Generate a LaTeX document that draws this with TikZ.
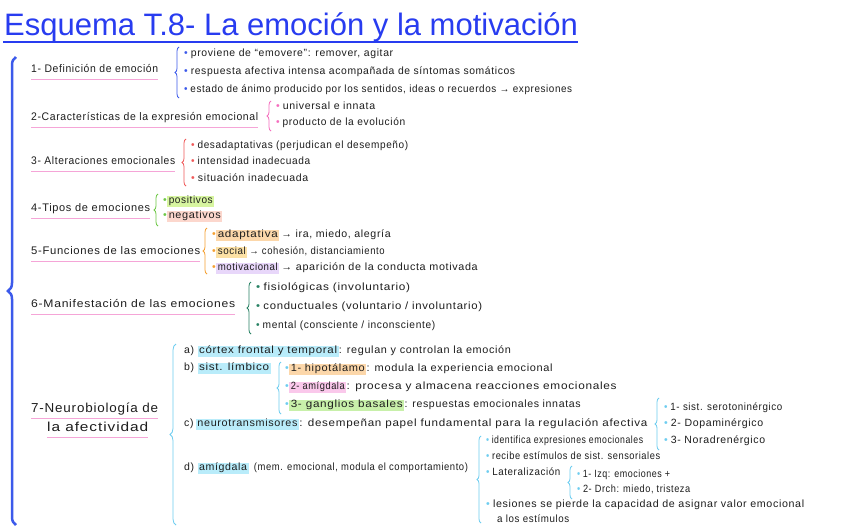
\documentclass[tikz,border=0pt]{standalone}
\usepackage{fontspec}
\setmainfont{Liberation Sans}
\newfontfamily\hand{Liberation Sans}[LetterSpace=6]
\usetikzlibrary{decorations.pathreplacing}
\definecolor{titleblue}{RGB}{40,60,240}
\definecolor{ink}{RGB}{30,30,30}
\definecolor{ulpink}{RGB}{245,165,215}
\definecolor{cA}{RGB}{60,90,235}
\definecolor{cB}{RGB}{245,110,190}
\definecolor{cC}{RGB}{240,90,90}
\definecolor{cD}{RGB}{110,200,70}
\definecolor{cE}{RGB}{245,160,50}
\definecolor{cF}{RGB}{40,130,100}
\definecolor{cG}{RGB}{110,205,240}
\definecolor{hlblue}{RGB}{185,236,250}
\definecolor{hlorange}{RGB}{252,215,170}
\definecolor{hlpink}{RGB}{250,200,235}
\definecolor{hlgreen}{RGB}{200,240,170}
\definecolor{hlpos}{RGB}{215,245,160}
\definecolor{hlneg}{RGB}{252,215,205}
\definecolor{hlsoc}{RGB}{252,225,165}
\definecolor{hlmot}{RGB}{232,215,250}
\newcommand{\bul}[1]{\textcolor{#1}{\textbullet}\hspace{3pt}}
\newcommand{\fw}[2]{\resizebox{#1pt}{\height}{#2}}
\begin{document}
\begin{tikzpicture}[x=1pt,y=-1pt,
  t/.style={anchor=west, inner sep=0pt, text height=7pt, text depth=2pt, font=\hand\fontsize{10.5}{12}\selectfont, text=ink},
  hd/.style={t, font=\hand\fontsize{11}{13}\selectfont},
  hdbig/.style={t, text height=9pt, text depth=3pt, font=\hand\fontsize{13}{15}\selectfont},
  hl/.style={t, inner xsep=1.5pt, inner ysep=1pt},
  ul/.style={ulpink, line width=1.3pt},
  br/.style={decorate, decoration={brace, amplitude=4pt}, line width=0.8pt}]
\fill[white] (0,0) rectangle (848,530);
\useasboundingbox (0,0) rectangle (848,530);
% title
\node[anchor=base west, inner sep=0pt, font=\fontsize{31}{36}\selectfont, text=titleblue] (title) at (4,35) {Esquema T.8- La emoción y la motivación};
\draw[titleblue, line width=2.5pt] ([xshift=-1pt,yshift=-7pt]title.base west) -- ([yshift=-7pt]title.base east);
% big brace
\draw[cA, line width=2.5pt, decorate, decoration={brace, amplitude=8pt}] (16,525) -- (16,57);
% 1
\node[hd] (h1) at (31,70) {\fw{127}{1- Definición de emoción}};
\draw[ul] ([yshift=-4.5pt]h1.south west) -- ([yshift=-4.5pt]h1.south east);
\draw[br, cA] (179,98) -- (179,47);
\node[t] (b11) at (184,54) {\fw{209}{\bul{cA}proviene de “emovere”: remover, agitar}};
\node[t] (b12) at (184,72) {\fw{331}{\bul{cA}respuesta afectiva intensa acompañada de síntomas somáticos}};
\node[t] (b13) at (184,90) {\fw{388}{\bul{cA}estado de ánimo producido por los sentidos, ideas o recuerdos → expresiones}};
% 2
\node[hd] (h2) at (31,118) {\fw{227}{2-Características de la expresión emocional}};
\draw[ul] ([yshift=-4.5pt]h2.south west) -- ([yshift=-4.5pt]h2.south east);
\draw[br, cB] (271,131) -- (271,101);
\node[t] (b21) at (276,107) {\fw{99}{\bul{cB}universal e innata}};
\node[t] (b22) at (276,123) {\fw{129}{\bul{cB}producto de la evolución}};
% 3
\node[hd] (h3) at (31,162) {\fw{144}{3- Alteraciones emocionales}};
\draw[ul] ([yshift=-4.5pt]h3.south west) -- ([yshift=-4.5pt]h3.south east);
\draw[br, cC] (186,186) -- (186,139);
\node[t] (b31) at (191,146) {\fw{217}{\bul{cC}desadaptativas (perjudican el desempeño)}};
\node[t] (b32) at (191,162) {\fw{119}{\bul{cC}intensidad inadecuada}};
\node[t] (b33) at (191,179) {\fw{117}{\bul{cC}situación inadecuada}};
% 4
\node[hd] (h4) at (31,209) {\fw{119}{4-Tipos de emociones}};
\draw[ul] ([yshift=-4.5pt]h4.south west) -- ([yshift=-4.5pt]h4.south east);
\draw[br, cD] (158,226) -- (158,194);
\node[t] (b41) at (163,201) {\bul{cD}};
\node[hl, fill=hlpos] (b41h) at (b41.east) {\fw{44}{positivos}};
\node[t] (b42) at (163,216) {\bul{cD}};
\node[hl, fill=hlneg] (b42h) at (b42.east) {\fw{52}{negativos}};
% 5
\node[hd] (h5) at (31,252) {\fw{169}{5-Funciones de las emociones}};
\draw[ul] ([yshift=-4.5pt]h5.south west) -- ([yshift=-4.5pt]h5.south east);
\draw[br, cE] (207,274) -- (207,228);
\node[t] (b51) at (212,235) {\bul{cE}};
\node[hl, fill=hlorange] (b51h) at (b51.east) {\fw{60}{adaptativa}};
\node[t] (b51r) at (b51h.east) {\fw{111}{\,→ ira, miedo, alegría}};
\node[t] (b52) at (212,252) {\bul{cE}};
\node[hl, fill=hlsoc] (b52h) at (b52.east) {\fw{28}{social}};
\node[t] (b52r) at (b52h.east) {\fw{137}{\,→ cohesión, distanciamiento}};
\node[t] (b53) at (212,268) {\bul{cE}};
\node[hl, fill=hlmot] (b53h) at (b53.east) {\fw{60}{motivacional}};
\node[t] (b53r) at (b53h.east) {\fw{198}{\,→ aparición de la conducta motivada}};
% 6
\node[hd] (h6) at (31,305) {\fw{204}{6-Manifestación de las emociones}};
\draw[ul] ([yshift=-4.5pt]h6.south west) -- ([yshift=-4.5pt]h6.south east);
\draw[br, cF] (251,334) -- (251,282);
\node[t] (b61) at (256,288) {\fw{154}{\bul{cF}fisiológicas (involuntario)}};
\node[t] (b62) at (256,307) {\fw{226}{\bul{cF}conductuales (voluntario / involuntario)}};
\node[t] (b63) at (256,326) {\fw{179}{\bul{cF}mental (consciente / inconsciente)}};
% 7
\node[hdbig] (h7a) at (31,409) {\fw{127}{7-Neurobiología de}};
\node[hdbig] (h7b) at (47,428) {\fw{101}{la afectividad}};
\draw[ul] ([yshift=-3pt]h7a.south west) -- ([yshift=-3pt]h7a.south east);
\draw[ul] ([yshift=-3pt]h7b.south west) -- ([yshift=-3pt]h7b.south east);
\draw[br, cG, decoration={brace, amplitude=6pt}] (176,525) -- (176,344);
% a
\node[t] (a1) at (184,351) {a)};
\node[hl, fill=hlblue] (a2) at ([xshift=3pt]a1.east) {\fw{138}{córtex frontal y temporal}};
\node[t] (a3) at (a2.east) {\fw{172}{: regulan y controlan la emoción}};
% b
\node[t] (bb1) at (184,368) {b)};
\node[hl, fill=hlblue] (bb2) at ([xshift=3pt]bb1.east) {\fw{70}{sist. límbico}};
\draw[br, cG] (281,414) -- (281,362);
\node[t] (bl1) at (285,369) {\bul{cG}};
\node[hl, fill=hlorange] (bl1h) at (bl1.east) {\fw{74}{1- hipotálamo}};
\node[t] (bl1r) at (bl1h.east) {\fw{186}{: modula la experiencia emocional}};
\node[t] (bl2) at (285,387) {\bul{cG}};
\node[hl, fill=hlpink] (bl2h) at (bl2.east) {\fw{54}{2- amígdala}};
\node[t] (bl2r) at (bl2h.east) {\fw{270}{: procesa y almacena reacciones emocionales}};
\node[t] (bl3) at (285,405) {\bul{cG}};
\node[hl, fill=hlgreen] (bl3h) at (bl3.east) {\fw{112}{3- ganglios basales}};
\node[t] (bl3r) at (bl3h.east) {\fw{176}{: respuestas emocionales innatas}};
% c
\node[t] (cc1) at (184,424) {c)};
\node[hl, fill=hlblue] (cc2) at ([xshift=2pt]cc1.east) {\fw{100}{neurotransmisores}};
\node[t] (cc3) at (cc2.east) {\fw{348}{: desempeñan papel fundamental para la regulación afectiva}};
\draw[br, cG] (659,450) -- (659,398);
\node[t] (nt1) at (664,408) {\fw{118}{\bul{cG}1- sist. serotoninérgico}};
\node[t] (nt2) at (664,424) {\fw{99}{\bul{cG}2- Dopaminérgico}};
\node[t] (nt3) at (664,441) {\fw{101}{\bul{cG}3- Noradrenérgico}};
% d
\node[t] (dd1) at (184,468) {d)};
\node[hl, fill=hlblue] (dd2) at ([xshift=3pt]dd1.east) {\fw{48}{amígdala}};
\node[t] (dd3) at ([xshift=5pt]dd2.east) {\fw{214}{(mem. emocional, modula el comportamiento)}};
\draw[br, cG] (481,523) -- (481,436);
\node[t] (am1) at (486,441) {\fw{157}{\bul{cG}identifica expresiones emocionales}};
\node[t] (am2) at (486,457) {\fw{174}{\bul{cG}recibe estímulos de sist. sensoriales}};
\node[t] (am3) at (486,473) {\fw{74}{\bul{cG}Lateralización}};
\draw[br, cG] (572,499) -- (572,466);
\node[t] (lt1) at (577,475) {\fw{93}{\bul{cG}1- Izq: emociones +}};
\node[t] (lt2) at (577,490) {\fw{113}{\bul{cG}2- Drch: miedo, tristeza}};
\node[t] (am4) at (486,505) {\fw{318}{\bul{cG}lesiones se pierde la capacidad de asignar valor emocional}};
\node[t] (am5) at (497,520) {\fw{72}{a los estímulos}};
\end{tikzpicture}
\end{document}
